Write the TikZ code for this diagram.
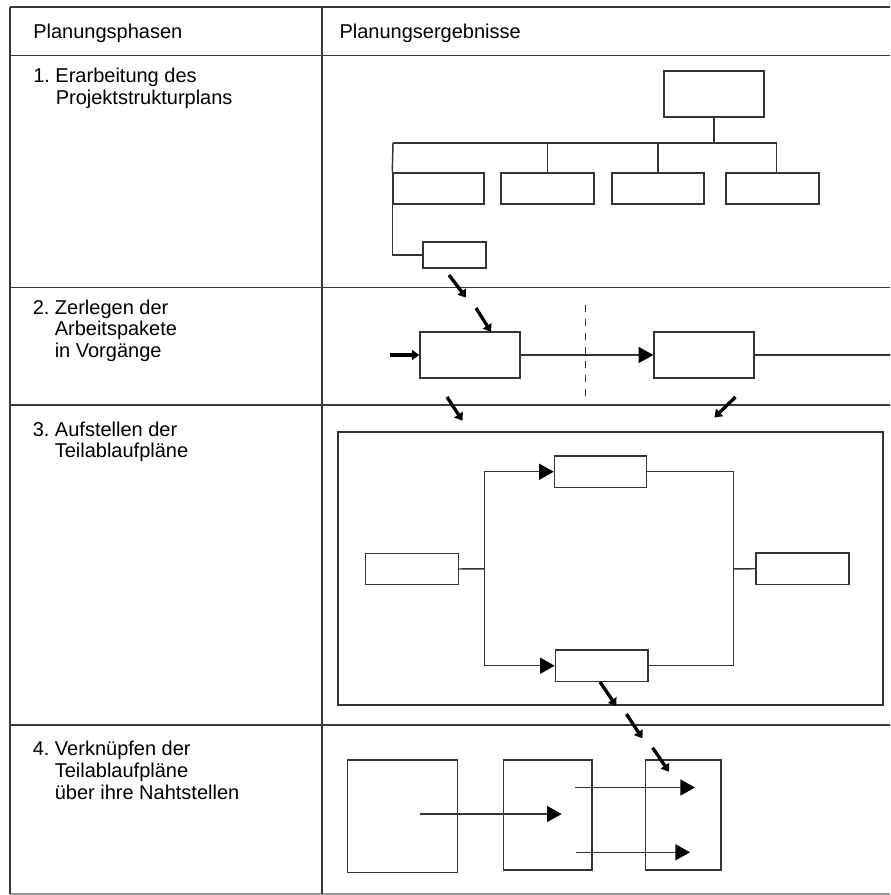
\documentclass[tikz,border=0pt]{standalone}
\usepackage{fontspec}
\setmainfont{Liberation Sans}
\usetikzlibrary{arrows.meta}
\newcommand\pxbox[5]{\node[pbox,minimum width={(#4-#2)*0.75pt},minimum height={(#5-#3)*0.75pt}] (#1) at ({(#2+#4)/2},{(#3+#5)/2}) {};}
\frenchspacing
\begin{document}
\begin{tikzpicture}[x=0.75pt,y=-0.75pt,
  gridline/.style={draw=black!78,line width=1.3pt},
  pbox/.style={draw=black!80,line width=1.1pt,rectangle,inner sep=0pt,fill=white},
  conn/.style={draw=black!80,line width=1.1pt},
  tri/.style={conn,-{Triangle[length=11pt,width=12pt,color=black]}},
  fat/.style={draw=black,line width=2.5pt,-{Triangle[length=5.5pt,width=7.5pt]}},
  lbl/.style={anchor=base west,inner sep=0pt,font=\fontsize{15}{18}\selectfont}]
\useasboundingbox (0,0) rectangle (890,895);
% ---------- table ----------
\draw[gridline] (10,7) -- (890,7);
\draw[gridline] (10,55.5) -- (890,55.5);
\draw[gridline] (10,287.5) -- (890,287.5);
\draw[gridline] (10,405) -- (890,405);
\draw[gridline] (10,725) -- (890,725);
\draw[gridline,draw=black!40] (10,894) -- (890,894);
\draw[gridline] (10,7) -- (10,894);
\draw[gridline] (322,7) -- (322,894);
% ---------- texts ----------
\node[lbl] (h1) at (33,38.3) {Planungsphasen};
\node[lbl] (h2) at (339.3,38.3) {Planungsergebnisse};
\node[lbl] (p1a) at (33,82.7) {1. Erarbeitung des};
\node[lbl] (p1b) at (55.5,104.3) {Projektstrukturplans};
\node[lbl] (p2a) at (32.5,314.3) {2. Zerlegen der};
\node[lbl] (p2b) at (54.5,335.8) {Arbeitspakete};
\node[lbl] (p2c) at (54.5,357.5) {in Vorgänge};
\node[lbl] (p3a) at (32.5,436.3) {3. Aufstellen der};
\node[lbl] (p3b) at (54.5,457.6) {Teilablaufpläne};
\node[lbl] (p4a) at (32.5,755.3) {4. Verknüpfen der};
\node[lbl] (p4b) at (54.5,777.2) {Teilablaufpläne};
\node[lbl] (p4c) at (54.5,799.5) {über ihre Nahtstellen};
% ---------- row 1: structure plan ----------
\pxbox{top}{664}{71}{764}{117}
\pxbox{ca}{393}{173}{484}{204}
\pxbox{cb}{501}{173}{594}{204}
\pxbox{cc}{612}{173}{704}{204}
\pxbox{cd}{726}{173}{819}{204}
\pxbox{sm}{423}{242}{486}{268}
\coordinate (busL) at (393,143);
\coordinate (busR) at (776.5,143);
\draw[conn] (busL) -- (busR);
\draw[conn] (top.south) -- (top.south |- busL);
\draw[conn] (busL) -- (ca.north west);
\draw[conn] (cb.north |- busL) -- (cb.north);
\draw[conn] (cc.north |- busL) -- (cc.north);
\draw[conn] (busR) -- (busR |- cd.north);
\draw[conn] (ca.south west) |- (sm.west);
% ---------- row 2: work packages ----------
\pxbox{ba}{420}{332}{520}{378}
\pxbox{bb}{654}{332}{754}{378}
\coordinate (inA) at (390,355);
\coordinate (outB) at (890,355);
\draw[fat] (inA) -- (ba.west);
\draw[tri] (ba.east) -- (bb.west);
\draw[conn] (bb.east) -- (outB);
\coordinate (dashT) at (585.5,305);
\coordinate (dashB) at (585.5,396);
\draw[conn,dash pattern=on 5.5pt off 5pt] (dashT) -- (dashB);
% ---------- row 3: partial plans ----------
\pxbox{big}{338}{432}{883}{705}
\pxbox{tb}{554.5}{456}{646.5}{487.5}
\pxbox{db}{555.5}{650}{648}{681.5}
\pxbox{lb}{365.5}{553.5}{458.5}{584.5}
\pxbox{rb}{756}{553}{849}{584.5}
\coordinate (sp) at (484.3,568.8);
\coordinate (jn) at (733.3,568.8);
\draw[conn] (lb.east) -- (sp);
\draw[tri] (sp) |- (tb.west);
\draw[tri] (sp) |- (db.west);
\draw[conn] (tb.east) -| (jn);
\draw[conn] (db.east) -| (jn);
\draw[conn] (jn) -- (rb.west);
% ---------- row 4: linked plans ----------
\pxbox{qa}{347.3}{760}{457.4}{872.3}
\pxbox{qb}{503.6}{760}{591.9}{870}
\pxbox{qc}{645.3}{760}{721}{870}
\coordinate (l1s) at (420,814);
\coordinate (l1e) at (561.7,814);
\coordinate (l2s) at (574.5,787.5);
\coordinate (l2e) at (695,787.5);
\coordinate (l3s) at (575.5,852.3);
\coordinate (l3e) at (690,852.3);
\draw[tri] (l1s) -- (l1e);
\draw[tri] (l2s) -- (l2e);
\draw[tri] (l3s) -- (l3e);
% ---------- bold transition arrows ----------
\coordinate (fa1) at (449,275);
\coordinate (fa2) at (466,297.5);
\coordinate (fb1) at (476,308);
\coordinate (fb2) at (491,332);
\coordinate (fd1) at (447,397);
\coordinate (fd2) at (462.5,420.7);
\coordinate (fe1) at (735.5,397);
\coordinate (fe2) at (714.4,417.5);
\coordinate (ff1) at (600,682);
\coordinate (ff2) at (616.3,706);
\coordinate (fg1) at (626.4,714);
\coordinate (fg2) at (642.4,738.3);
\coordinate (fh1) at (652.6,747.7);
\coordinate (fh2) at (669,771.7);
\draw[fat] (fa1) -- (fa2);
\draw[fat] (fb1) -- (fb2);
\draw[fat] (fd1) -- (fd2);
\draw[fat] (fe1) -- (fe2);
\draw[fat] (ff1) -- (ff2);
\draw[fat] (fg1) -- (fg2);
\draw[fat] (fh1) -- (fh2);
\end{tikzpicture}
\end{document}
